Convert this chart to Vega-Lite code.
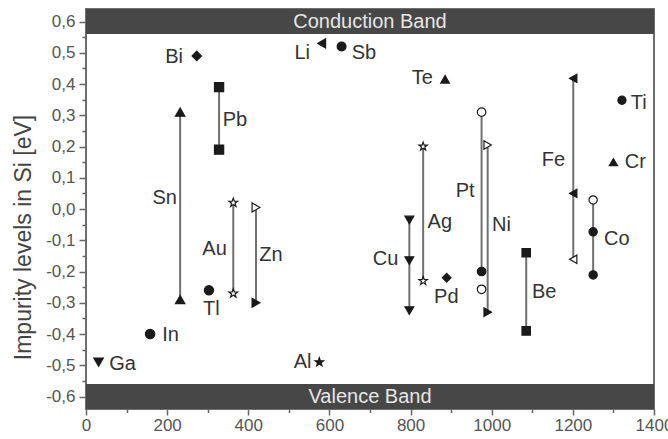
{
  "$schema": "https://vega.github.io/schema/vega-lite/v6.json",
  "width": 568,
  "height": 400,
  "autosize": {"type": "none"},
  "padding": {"left": 86, "top": 9, "right": 14, "bottom": 30},
  "background": "white",
  "config": {
    "font": "Liberation Sans",
    "view": {"stroke": "#6e6e6e", "strokeWidth": 2},
    "axis": {"labelFont": "Liberation Sans", "titleFont": "Liberation Sans", "grid": false, "domain": false, "tickColor": "#666666", "tickWidth": 1.5, "labelColor": "#555555", "labelFontSize": 17}
  },
  "datasets": {
    "bands": [
      {"band": "Conduction Band", "from": 0.56, "to": 0.64, "center": 0.6},
      {"band": "Valence Band", "from": -0.64, "to": -0.56, "center": -0.6}
    ],
    "segments": [
      {"el": "Sn", "x": 232, "top": 0.31, "bottom": -0.29},
      {"el": "Pb", "x": 328, "top": 0.39, "bottom": 0.19},
      {"el": "Au", "x": 363, "top": 0.02, "bottom": -0.27},
      {"el": "Zn", "x": 419, "top": 0.005, "bottom": -0.3},
      {"el": "Cu", "x": 797, "top": -0.035, "bottom": -0.325},
      {"el": "Ag", "x": 831, "top": 0.2, "bottom": -0.23},
      {"el": "Pt", "x": 975, "top": 0.31, "bottom": -0.2},
      {"el": "Ni", "x": 990, "top": 0.205, "bottom": -0.33},
      {"el": "Be", "x": 1085, "top": -0.14, "bottom": -0.39},
      {"el": "Fe", "x": 1201, "top": 0.418, "bottom": -0.161},
      {"el": "Co", "x": 1250, "top": 0.029, "bottom": -0.211}
    ],
    "levels": [
      {"el": "Ga", "x": 31, "e": -0.49, "hollow": "no"},
      {"el": "In", "x": 158, "e": -0.4, "hollow": "no"},
      {"el": "Sn", "x": 232, "e": 0.31, "hollow": "no"},
      {"el": "Sn", "x": 232, "e": -0.29, "hollow": "no"},
      {"el": "Bi", "x": 273, "e": 0.49, "hollow": "no"},
      {"el": "Tl", "x": 303, "e": -0.26, "hollow": "no"},
      {"el": "Pb", "x": 328, "e": 0.39, "hollow": "no"},
      {"el": "Pb", "x": 328, "e": 0.19, "hollow": "no"},
      {"el": "Au", "x": 363, "e": 0.02, "hollow": "yes"},
      {"el": "Au", "x": 363, "e": -0.27, "hollow": "yes"},
      {"el": "Zn", "x": 419, "e": 0.005, "hollow": "yes"},
      {"el": "Zn", "x": 419, "e": -0.3, "hollow": "no"},
      {"el": "Al", "x": 575, "e": -0.49, "hollow": "no"},
      {"el": "Li", "x": 581, "e": 0.53, "hollow": "no"},
      {"el": "Sb", "x": 630, "e": 0.52, "hollow": "no"},
      {"el": "Cu", "x": 797, "e": -0.035, "hollow": "no"},
      {"el": "Cu", "x": 797, "e": -0.165, "hollow": "no"},
      {"el": "Cu", "x": 797, "e": -0.325, "hollow": "no"},
      {"el": "Ag", "x": 831, "e": 0.2, "hollow": "yes"},
      {"el": "Ag", "x": 831, "e": -0.23, "hollow": "yes"},
      {"el": "Te", "x": 885, "e": 0.415, "hollow": "no"},
      {"el": "Pd", "x": 889, "e": -0.22, "hollow": "no"},
      {"el": "Pt", "x": 975, "e": 0.31, "hollow": "yes"},
      {"el": "Pt", "x": 975, "e": -0.2, "hollow": "no"},
      {"el": "Pt", "x": 975, "e": -0.257, "hollow": "yes"},
      {"el": "Ni", "x": 990, "e": 0.205, "hollow": "yes"},
      {"el": "Ni", "x": 990, "e": -0.33, "hollow": "no"},
      {"el": "Be", "x": 1085, "e": -0.14, "hollow": "no"},
      {"el": "Be", "x": 1085, "e": -0.39, "hollow": "no"},
      {"el": "Fe", "x": 1201, "e": 0.418, "hollow": "no"},
      {"el": "Fe", "x": 1201, "e": 0.05, "hollow": "no"},
      {"el": "Fe", "x": 1201, "e": -0.161, "hollow": "yes"},
      {"el": "Co", "x": 1250, "e": 0.029, "hollow": "yes"},
      {"el": "Co", "x": 1250, "e": -0.073, "hollow": "no"},
      {"el": "Co", "x": 1250, "e": -0.211, "hollow": "no"},
      {"el": "Cr", "x": 1300, "e": 0.15, "hollow": "no"},
      {"el": "Ti", "x": 1321, "e": 0.348, "hollow": "no"}
    ],
    "names": [
      {"el": "Bi", "lx": 239, "ly": 0.487, "side": "r"},
      {"el": "Li", "lx": 552, "ly": 0.5, "side": "r"},
      {"el": "Te", "lx": 855, "ly": 0.418, "side": "r"},
      {"el": "Sn", "lx": 224, "ly": 0.036, "side": "r"},
      {"el": "Au", "lx": 347, "ly": -0.128, "side": "r"},
      {"el": "Al", "lx": 556, "ly": -0.49, "side": "r"},
      {"el": "Cu", "lx": 770, "ly": -0.16, "side": "r"},
      {"el": "Pt", "lx": 958, "ly": 0.059, "side": "r"},
      {"el": "Fe", "lx": 1181, "ly": 0.156, "side": "r"},
      {"el": "Sb", "lx": 655, "ly": 0.5, "side": "l"},
      {"el": "Pb", "lx": 337, "ly": 0.284, "side": "l"},
      {"el": "Zn", "lx": 427, "ly": -0.146, "side": "l"},
      {"el": "In", "lx": 188, "ly": -0.403, "side": "l"},
      {"el": "Ga", "lx": 57, "ly": -0.496, "side": "l"},
      {"el": "Ag", "lx": 842, "ly": -0.04, "side": "l"},
      {"el": "Pd", "lx": 858, "ly": -0.28, "side": "l"},
      {"el": "Ni", "lx": 1001, "ly": -0.05, "side": "l"},
      {"el": "Ti", "lx": 1343, "ly": 0.34, "side": "l"},
      {"el": "Cr", "lx": 1328, "ly": 0.149, "side": "l"},
      {"el": "Co", "lx": 1277, "ly": -0.096, "side": "l"},
      {"el": "Be", "lx": 1099, "ly": -0.264, "side": "l"},
      {"el": "Tl", "lx": 309, "ly": -0.32, "side": "c"}
    ]
  },
  "layer": [
    {
      "data": {"name": "bands"},
      "mark": {"type": "rect", "color": "#474747"},
      "encoding": {
        "x": {"datum": 0, "type": "quantitative", "scale": {"domain": [0, 1400], "nice": false, "zero": false},
          "axis": {"values": [0, 100, 200, 300, 400, 500, 600, 700, 800, 900, 1000, 1100, 1200, 1300, 1400],
            "tickSize": {"condition": {"test": "datum.value % 200 === 0", "value": 6}, "value": 3.5},
            "labelExpr": "datum.value % 200 === 0 ? format(datum.value, 'd') : ''",
            "labelPadding": 2, "title": null, "labelFlush": false, "labelOverlap": false}},
        "x2": {"datum": 1400},
        "y": {"field": "from", "type": "quantitative", "scale": {"domain": [-0.64, 0.64], "nice": false, "zero": false},
          "axis": {"values": [-0.6, -0.55, -0.5, -0.45, -0.4, -0.35, -0.3, -0.25, -0.2, -0.15, -0.1, -0.05, 0, 0.05, 0.1, 0.15, 0.2, 0.25, 0.3, 0.35, 0.4, 0.45, 0.5, 0.55, 0.6],
            "tickSize": {"condition": {"test": "abs(datum.value * 10 - round(datum.value * 10)) < 0.001", "value": 7}, "value": 4},
            "labelPadding": 4, "labelOverlap": false,
            "labelExpr": "abs(datum.value * 10 - round(datum.value * 10)) < 0.001 ? replace(replace(format(datum.value, '.1f'), '.', ','), '\u2212', '-') : ''",
            "title": "Impurity levels in Si [eV]", "titleFontSize": 23, "titleFontWeight": "normal", "titleColor": "#444444", "titlePadding": 10, "titleY": 228}},
        "y2": {"field": "to"}
      }
    },
    {
      "data": {"name": "bands"},
      "mark": {"type": "text", "color": "#e6e6e6", "fontSize": 20, "baseline": "middle", "align": "center"},
      "encoding": {
        "x": {"datum": 700, "type": "quantitative", "axis": null},
        "y": {"field": "center", "type": "quantitative", "axis": null},
        "text": {"field": "band"}
      }
    },
    {
      "mark": {"type": "rule", "color": "#888888", "strokeWidth": 2},
      "encoding": {"y": {"datum": 0, "type": "quantitative", "axis": null}}
    },
    {
      "data": {"name": "segments"},
      "mark": {"type": "rule", "color": "#707070", "strokeWidth": 2},
      "encoding": {
        "x": {"field": "x", "type": "quantitative", "axis": null},
        "y": {"field": "top", "type": "quantitative", "axis": null},
        "y2": {"field": "bottom"}
      }
    },
    {
      "data": {"name": "levels"},
      "mark": {"type": "point", "filled": true, "stroke": "#1a1a1a", "strokeWidth": 1.2, "opacity": 1},
      "encoding": {
        "x": {"field": "x", "type": "quantitative", "axis": null},
        "y": {"field": "e", "type": "quantitative", "axis": null},
        "shape": {"field": "el", "type": "nominal", "legend": null, "scale": {
          "domain": ["Ga", "In", "Sn", "Bi", "Tl", "Pb", "Au", "Zn", "Al", "Li", "Sb", "Cu", "Ag", "Te", "Pd", "Pt", "Ni", "Be", "Fe", "Co", "Cr", "Ti"],
          "range": ["triangle-down", "circle", "triangle-up", "diamond", "circle", "square",
            "M0,-1L0.235,-0.324L0.951,-0.309L0.38,0.124L0.588,0.809L0,0.4L-0.588,0.809L-0.38,0.124L-0.951,-0.309L-0.235,-0.324Z",
            "triangle-right",
            "M0,-1L0.235,-0.324L0.951,-0.309L0.38,0.124L0.588,0.809L0,0.4L-0.588,0.809L-0.38,0.124L-0.951,-0.309L-0.235,-0.324Z",
            "triangle-left", "circle", "triangle-down",
            "M0,-1L0.235,-0.324L0.951,-0.309L0.38,0.124L0.588,0.809L0,0.4L-0.588,0.809L-0.38,0.124L-0.951,-0.309L-0.235,-0.324Z",
            "triangle-up", "diamond", "circle", "triangle-right", "square", "triangle-left", "circle", "triangle-up", "circle"]}},
        "size": {"field": "el", "type": "nominal", "legend": null, "scale": {
          "domain": ["Ga", "In", "Sn", "Bi", "Tl", "Pb", "Au", "Zn", "Al", "Li", "Sb", "Cu", "Ag", "Te", "Pd", "Pt", "Ni", "Be", "Fe", "Co", "Cr", "Ti"],
          "range": [90, 66, 100, 125, 66, 62, 170, 64, 160, 56, 62, 90, 170, 100, 125, 52, 64, 62, 60, 60, 100, 66]}},
        "fill": {"field": "hollow", "type": "nominal", "legend": null, "scale": {"domain": ["no", "yes"], "range": ["#1a1a1a", "#ffffff"]}}
      }
    },
    {
      "data": {"name": "names"},
      "transform": [{"filter": "datum.side === 'r'"}],
      "mark": {"type": "text", "align": "right", "baseline": "middle", "fontSize": 20, "color": "#333333"},
      "encoding": {
        "x": {"field": "lx", "type": "quantitative", "axis": null},
        "y": {"field": "ly", "type": "quantitative", "axis": null},
        "text": {"field": "el"}
      }
    },
    {
      "data": {"name": "names"},
      "transform": [{"filter": "datum.side === 'l'"}],
      "mark": {"type": "text", "align": "left", "baseline": "middle", "fontSize": 20, "color": "#333333"},
      "encoding": {
        "x": {"field": "lx", "type": "quantitative", "axis": null},
        "y": {"field": "ly", "type": "quantitative", "axis": null},
        "text": {"field": "el"}
      }
    },
    {
      "data": {"name": "names"},
      "transform": [{"filter": "datum.side === 'c'"}],
      "mark": {"type": "text", "align": "center", "baseline": "middle", "fontSize": 20, "color": "#333333"},
      "encoding": {
        "x": {"field": "lx", "type": "quantitative", "axis": null},
        "y": {"field": "ly", "type": "quantitative", "axis": null},
        "text": {"field": "el"}
      }
    }
  ],
  "resolve": {"axis": {"x": "independent", "y": "independent"}}
}
